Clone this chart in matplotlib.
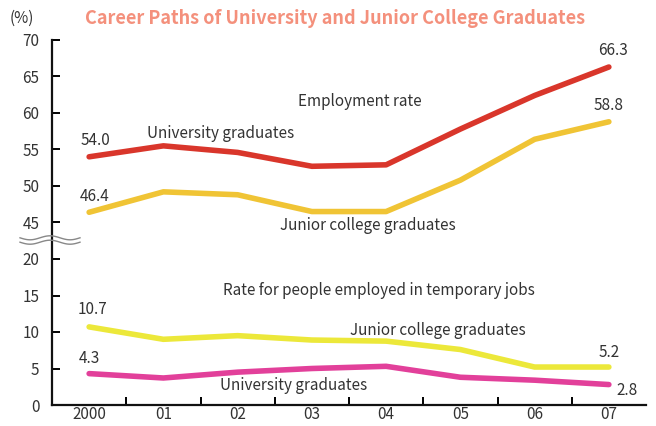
import numpy as np
import matplotlib
matplotlib.use("Agg")
import matplotlib.pyplot as plt
from matplotlib.lines import Line2D

plt.rcParams['font.family'] = ['Noto Sans CJK JP', 'DejaVu Sans']

# data
years = ["2000", "01", "02", "03", "04", "05", "06", "07"]
emp_univ = [54.0, 55.5, 54.6, 52.7, 52.9, 57.8, 62.4, 66.3]
emp_junior = [46.4, 49.2, 48.8, 46.5, 46.5, 50.8, 56.4, 58.8]
temp_junior = [10.7, 9.0, 9.5, 8.9, 8.75, 7.6, 5.2, 5.2]
temp_univ = [4.3, 3.7, 4.5, 5.0, 5.3, 3.8, 3.4, 2.8]

ytick_vals = [0, 5, 10, 15, 20, 45, 50, 55, 60, 65, 70]

BREAK_LO, BREAK_HI = 20, 45
GAP = BREAK_HI - BREAK_LO - 5  # 45 sits one tick step above 20


def squash(vals):
    # broken axis: values above the break move down by GAP
    return [v - GAP if v >= BREAK_HI else v for v in vals]


text_col = "#333333"

fig = plt.figure(figsize=(6.56, 4.26), dpi=100)
ax = fig.add_axes([52 / 656, 1 - 405 / 426, 594 / 656, 365 / 426])

x = np.arange(len(years))
ax.plot(x, squash(emp_univ), color="#d9362b", lw=4, solid_capstyle="round")
ax.plot(x, squash(emp_junior), color="#f0c435", lw=4, solid_capstyle="round")
ax.plot(x, temp_junior, color="#ece83a", lw=4, solid_capstyle="round")
ax.plot(x, temp_univ, color="#e2409a", lw=4, solid_capstyle="round")

ax.set_xlim(-0.5, 7.5)
ax.set_ylim(0, 50)
ax.set_yticks(squash(ytick_vals))
ax.set_yticklabels([str(v) for v in ytick_vals])
ax.set_xticks(x)
ax.set_xticklabels(years)
ax.set_xticks(x[:-1] + 0.5, minor=True)

for s in ["top", "right"]:
    ax.spines[s].set_visible(False)
for s in ["left", "bottom"]:
    ax.spines[s].set_linewidth(1.6)
    ax.spines[s].set_color("#111111")

ax.tick_params(axis="y", direction="in", length=6, width=1.4, pad=9,
               labelsize=11, labelcolor=text_col)
ax.tick_params(axis="x", which="major", length=0, pad=1,
               labelsize=11, labelcolor=text_col)
ax.tick_params(axis="x", which="minor", direction="in", length=6, width=1.4)

fs = 11
# value labels
ax.text(0.08, squash([emp_univ[0]])[0] + 1.6, f"{emp_univ[0]:.1f}", ha="center", fontsize=fs, color=text_col)
ax.text(0.08, squash([emp_junior[0]])[0] + 1.6, f"{emp_junior[0]:.1f}", ha="center", fontsize=fs, color=text_col)
ax.text(7.05, squash([emp_univ[-1]])[0] + 1.6, f"{emp_univ[-1]:.1f}", ha="center", fontsize=fs, color=text_col)
ax.text(7.0, squash([emp_junior[-1]])[0] + 1.6, f"{emp_junior[-1]:.1f}", ha="center", fontsize=fs, color=text_col)
ax.text(0.05, temp_junior[0] + 1.8, f"{temp_junior[0]:.1f}", ha="center", fontsize=fs, color=text_col)
ax.text(0.0, temp_univ[0] + 1.5, f"{temp_univ[0]:.1f}", ha="center", fontsize=fs, color=text_col)
ax.text(7.0, temp_junior[-1] + 1.4, f"{temp_junior[-1]:.1f}", ha="center", fontsize=fs, color=text_col)
ax.text(7.25, temp_univ[-1] - 1.4, f"{temp_univ[-1]:.1f}", ha="center", fontsize=fs, color=text_col)

# series annotations
ax.text(3.65, 41.0, "Employment rate", ha="center", fontsize=fs, color=text_col)
ax.text(1.77, 36.6, "University graduates", ha="center", fontsize=fs, color=text_col)
ax.text(3.75, 24.0, "Junior college graduates", ha="center", fontsize=fs, color=text_col)
ax.text(3.9, 15.1, "Rate for people employed in temporary jobs", ha="center", fontsize=fs, color=text_col)
ax.text(4.7, 9.6, "Junior college graduates", ha="center", fontsize=fs, color=text_col)
ax.text(2.75, 2.1, "University graduates", ha="center", fontsize=fs, color=text_col)

# axis break marks
wx = np.linspace(20, 80, 60)
for off in (-2.2, 2.2):
    wy = 240 + off + 2.0 * np.sin((wx - 20) / 60 * 3 * np.pi)
    fig.add_artist(Line2D(wx / 656, 1 - wy / 426, color="#888888", lw=1.0))

fig.text(22 / 656, 1 - 18 / 426, "(%)", ha="center", va="center", fontsize=11, color=text_col)
fig.text(335 / 656, 1 - 18 / 426, "Career Paths of University and Junior College Graduates",
         ha="center", va="center", fontsize=13, fontweight="bold", color="#f4907c")

fig.savefig("out.png", dpi=100)
